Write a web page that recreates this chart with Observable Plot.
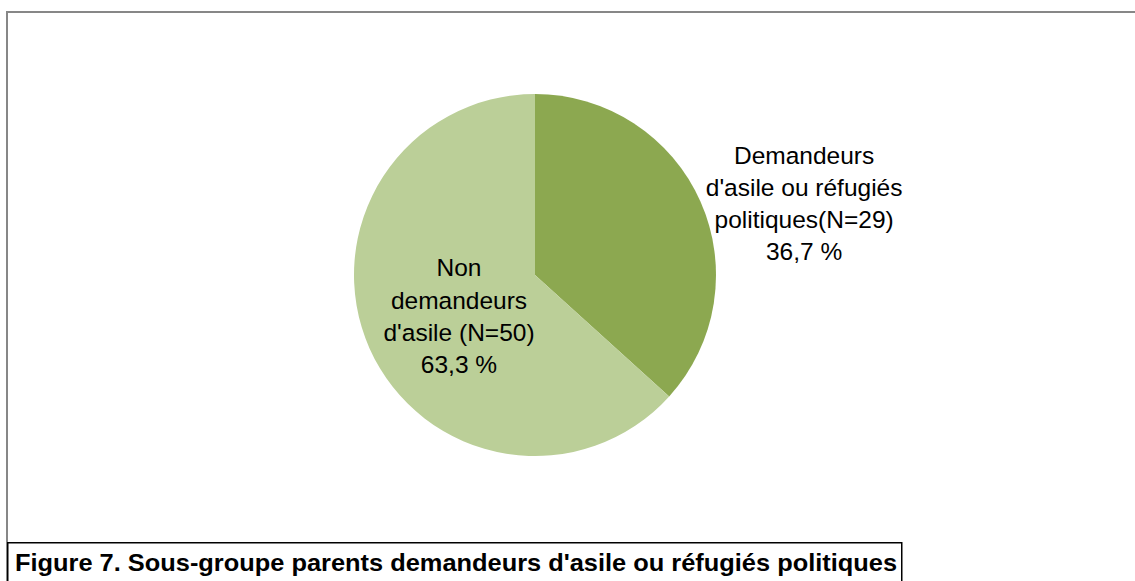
<!DOCTYPE html>
<html><head><meta charset="utf-8">
<script src="https://cdn.jsdelivr.net/npm/d3@7"></script>
<script src="https://cdn.jsdelivr.net/npm/@observablehq/plot@0.6"></script>
<style>
html,body{margin:0;padding:0;background:#fff;}
#wrap{position:relative;width:1135px;height:581px;overflow:hidden;font-family:"Liberation Sans",Arial,sans-serif;background:#fff;}
#chart{position:absolute;left:0;top:0;}
#captionSvg{position:absolute;left:0;top:542px;}
.fr{position:absolute;background:#878787;}
</style>
</head><body>
<div id="wrap">
  <div id="chart"></div>
  <div class="fr" style="left:6px;top:11px;width:1140px;height:2px;"></div>
  <div class="fr" style="left:6px;top:11px;width:2px;height:580px;"></div>
  <svg id="captionSvg" width="1135" height="39"></svg>
</div>
<script>
// ---- data ----
const categories = ["Demandeurs d'asile ou réfugiés politiques", "Non demandeurs d'asile"];
const counts = [29, 50];
const labelTexts = ["Demandeurs\nd'asile ou réfugiés\npolitiques(N=29)\n36,7 %", "Non\ndemandeurs\nd'asile (N=50)\n63,3 %"];
const sliceColors = ["#8ca850", "#bbcf98"];
const captionText = "Figure 7. Sous-groupe parents demandeurs d'asile ou réfugiés politiques";

// ---- build table ----
const pie = d3.pie().sort(null).value(d => d.count);
const rows = categories.map((c, i) => ({category: c, count: counts[i], label: labelTexts[i]}));
const arcs = pie(rows);
const labelRadius = [1.4, 0.42];
const labels = arcs.map((a, i) => {
  const m = (a.startAngle + a.endAngle) / 2;
  return {label: a.data.label, category: a.data.category, i,
          x: labelRadius[i] * Math.sin(m), y: -labelRadius[i] * Math.cos(m)};
});

function pieMark(index, scales) {
  const cx = scales.x(0), cy = scales.y(0), r = scales.x(1) - scales.x(0);
  const color = c => sliceColors[categories.indexOf(c)];
  const g = d3.create("svg:g").attr("transform", `translate(${cx},${cy})`);
  const arc = d3.arc().innerRadius(0).outerRadius(r);
  g.selectAll("path").data(arcs).join("path")
    .attr("d", arc)
    .attr("fill", d => color(d.data.category));
  return g.node();
}

const textOpts = {x: "x", y: "y", text: "label", fontSize: 24.5, lineHeight: 1.31, fill: "#000", textAnchor: "middle", lineAnchor: "middle"};

const plot = Plot.plot({
  width: 1135,
  height: 542,
  margin: 0,
  x: {domain: [-1, 1], range: [354, 716], axis: null},
  y: {domain: [-1, 1], range: [94, 456], axis: null},
  style: {fontFamily: "'Liberation Sans', Arial, sans-serif", background: "transparent"},
  marks: [
    pieMark,
    Plot.text(labels.filter(d => d.i === 0), {...textOpts, dx: 37, dy: 29}),
    Plot.text(labels.filter(d => d.i === 1), {...textOpts, dx: -7, dy: 8})
  ]
});
document.getElementById("chart").appendChild(plot);

// caption box
const cap = d3.select("#captionSvg");
cap.append("rect").attr("x", 7.75).attr("y", 0.75).attr("width", 894).attr("height", 50)
  .attr("fill", "#fff").attr("stroke", "#000").attr("stroke-width", 1.5);
cap.append("text").attr("x", 15).attr("y", 28.5)
  .attr("font-family", "'Liberation Sans', Arial, sans-serif")
  .attr("font-weight", "bold").attr("font-size", 24)
  .attr("textLength", 882).attr("lengthAdjust", "spacingAndGlyphs")
  .attr("fill", "#000")
  .text(captionText);
</script>
</body></html>
